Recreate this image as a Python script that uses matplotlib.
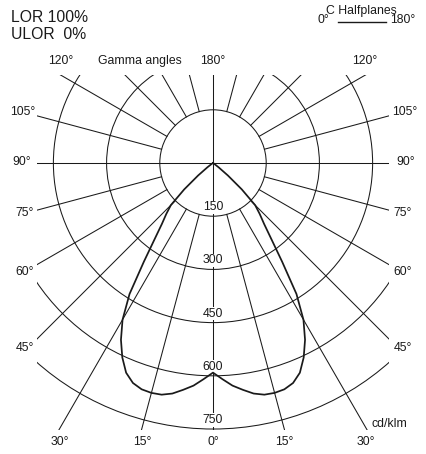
import numpy as np
import matplotlib.pyplot as plt
from matplotlib.patches import Circle, Rectangle

plt.rcParams['font.family'] = ['Liberation Sans', 'DejaVu Sans']

# luminous intensity distribution (cd/klm), same in C0 and C180
gamma = [0, 2.5, 5, 7.5, 10, 12.5, 15, 17.5, 20, 22.5, 25, 27.5, 30, 32.5,
         35, 37.5, 40, 42.5, 45, 47.5, 50, 52.5, 55, 60, 90]
intensity = [591, 610, 630, 645, 660, 669, 671, 669, 660, 640, 605, 562, 510, 438,
             340, 270, 224, 195, 168, 110, 55, 20, 5, 0, 0]

rings = [150, 300, 450, 600, 750]
grid_angles = np.arange(0, 181, 15)
labelled_angles = [0, 15, 30, 45, 60, 75, 90, 105, 120]
lor_text = 'LOR 100%'
ulor_text = 'ULOR  0%'

W, H = 426, 454
CX, CY = 213, 163          # pole position in pixels
S = 0.3547                 # pixels per cd/klm
ink = '#1a1a1a'
fs = 8.8

fig = plt.figure(figsize=(W / 100, H / 100), dpi=100)
ax = fig.add_axes([0, 0, 1, 1])
ax.set_xlim(-CX / S, (W - CX) / S)
ax.set_ylim(-(H - CY) / S, CY / S)
ax.axis('off')


def fxy(px, py):
    return px / W, 1 - py / H


# grid is clipped to the frame of the diagram
box = Rectangle((-176 / S, -(429.5 - CY) / S), 352 / S, (429.5 - 75) / S,
                transform=ax.transData)

for r in rings:
    c = Circle((0, 0), r, fill=False, lw=0.75, ec=ink)
    ax.add_patch(c)
    c.set_clip_path(box)

for a in grid_angles:
    t = np.radians(a)
    r0 = 0 if a in (0, 90, 180) else rings[0]
    r1 = rings[-1] if a == 0 else 3000
    sides = [1, -1] if a not in (0, 180) else [1]
    for sgn in sides:
        ln, = ax.plot([sgn * r0 * np.sin(t), sgn * r1 * np.sin(t)],
                      [-r0 * np.cos(t), -r1 * np.cos(t)], color=ink, lw=0.75)
        ln.set_clip_path(box)

# curve C0 (left) and C180 (right)
g = np.radians(gamma)
I = np.array(intensity, dtype=float)
xs = np.concatenate([-I[::-1] * np.sin(g[::-1]), I[1:] * np.sin(g[1:])])
ys = np.concatenate([-I[::-1] * np.cos(g[::-1]), -I[1:] * np.cos(g[1:])])
ax.plot(xs, ys, color=ink, lw=1.25, zorder=4)

# ring values
for r in rings:
    ax.annotate(str(r), (0, -r), xytext=(0, 2.2), textcoords='offset points',
                ha='center', va='bottom', fontsize=fs, color=ink, zorder=3,
                bbox=dict(boxstyle='square,pad=0.05', fc='white', ec='none'))

# angle labels (pixel positions of label centres, left side)
left_pos = {120: (61, 61), 105: (23, 112), 90: (22, 162), 75: (25, 213),
            60: (25, 272), 45: (25, 348), 30: (60, 442), 15: (142, 442)}
for a in labelled_angles:
    if a == 0:
        fig.text(*fxy(CX, 442), '0°', ha='center', va='center', fontsize=fs, color=ink)
        continue
    px, py = left_pos[a]
    fig.text(*fxy(px, py), f'{a}°', ha='center', va='center', fontsize=fs, color=ink)
    shift = 2 if a in (45, 60, 75, 90, 105) else 0
    fig.text(*fxy(2 * CX - px + shift, py), f'{a}°',
             ha='center', va='center', fontsize=fs, color=ink)
fig.text(*fxy(CX, 61), '180°', ha='center', va='center', fontsize=fs, color=ink)
fig.text(*fxy(139.5, 61), 'Gamma angles', ha='center', va='center', fontsize=fs, color=ink)
fig.text(*fxy(371, 424), 'cd/klm', ha='left', va='center', fontsize=fs, color=ink)

fig.text(*fxy(11, 17), lor_text, ha='left', va='center', fontsize=11.3, color=ink)
fig.text(*fxy(11, 34.5), ulor_text, ha='left', va='center', fontsize=11.3, color=ink)

# legend
fig.text(*fxy(361, 11), 'C Halfplanes', ha='center', va='center', fontsize=fs, color=ink)
fig.text(*fxy(323, 20), '0°', ha='center', va='center', fontsize=fs, color=ink)
fig.text(*fxy(403, 20), '180°', ha='center', va='center', fontsize=fs, color=ink)
fig.add_artist(plt.Line2D([338 / W, 386 / W], [1 - 21.5 / H] * 2, color=ink, lw=1.0))

fig.savefig('out.png', dpi=100)
